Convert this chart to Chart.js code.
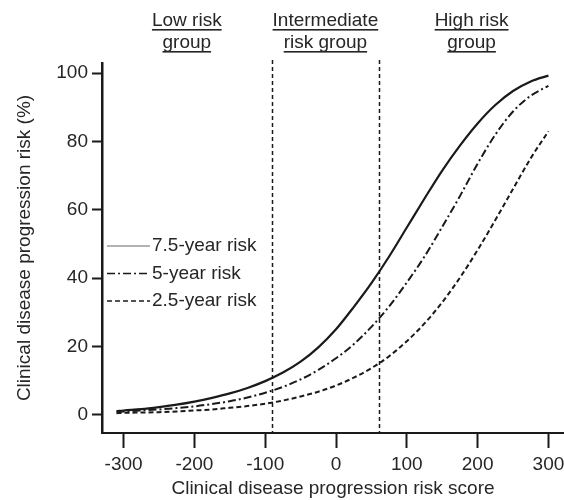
<!DOCTYPE html>
<html>
<head>
<meta charset="utf-8">
<script src="https://cdn.jsdelivr.net/npm/chart.js@4/dist/chart.umd.min.js"></script>
<style>
  html, body { margin: 0; padding: 0; background: #fff; overflow: hidden; }
  canvas { display: block; }
</style>
</head>
<body>
<canvas id="chart" width="564" height="500"></canvas>
<script>
// Risk score grid and cumulative progression risk (%) per horizon
const riskScore = [-310, -300, -275, -250, -225, -200, -175, -150, -125, -100, -75, -50, -25,
                   0, 25, 50, 75, 100, 125, 150, 175, 200, 225, 250, 275, 300];
const risk75 = [1.0, 1.2, 1.6, 2.2, 2.9, 3.8, 4.9, 6.2, 7.8, 9.8, 12.3, 15.5, 19.7,
                25.0, 31.5, 38.5, 46.3, 54.8, 63.3, 71.5, 78.8, 85.3, 90.7, 94.8, 97.6, 99.3];
const risk50 = [0.8, 0.9, 1.2, 1.5, 1.9, 2.4, 3.1, 3.9, 5.0, 6.4, 8.1, 10.3, 13.1,
                16.5, 20.6, 25.7, 31.7, 38.7, 46.3, 55.0, 64.0, 73.5, 82.0, 88.8, 93.4, 96.3];
const risk25 = [0.4, 0.5, 0.6, 0.7, 0.9, 1.2, 1.5, 2.0, 2.5, 3.2, 4.1, 5.3, 6.7,
                8.5, 10.8, 13.6, 17.1, 21.5, 26.7, 32.9, 40.1, 48.2, 57.0, 66.1, 75.1, 83.0];
const seriesLabels = ['7.5-year risk', '5-year risk', '2.5-year risk'];

const xTicks = [-300, -200, -100, 0, 100, 200, 300];
const yTicks = [0, 20, 40, 60, 80, 100];

// Score cut-offs separating the risk groups
const groupCutoffs = [-91, 61];
const groupNames = [['Low risk', 'group'], ['Intermediate', 'risk group'], ['High risk', 'group']];

const FONT = '"Liberation Sans", Arial, Helvetica, sans-serif';
const INK = '#1a1a1a';
const TEXT = '#262626';

Chart.defaults.font.family = FONT;
Chart.defaults.font.size = 19;
Chart.defaults.color = TEXT;

const toPoints = ys => riskScore.map((x, i) => ({ x, y: ys[i] }));

// Cut-off lines, group headings and the in-plot legend
const overlay = {
  id: 'overlay',
  afterDatasetsDraw(chart) {
    const { ctx, chartArea, scales: { x } } = chart;
    ctx.save();

    ctx.strokeStyle = INK;
    ctx.lineWidth = 1.5;
    ctx.setLineDash([4, 3]);
    groupCutoffs.forEach(v => {
      const px = Math.round(x.getPixelForValue(v)) + 0.5;
      ctx.beginPath();
      ctx.moveTo(px, chartArea.top - 3);
      ctx.lineTo(px, chartArea.bottom);
      ctx.stroke();
    });
    ctx.setLineDash([]);

    const bounds = [x.min, ...groupCutoffs, x.max];
    ctx.font = '19px ' + FONT;
    ctx.fillStyle = TEXT;
    ctx.textAlign = 'center';
    ctx.textBaseline = 'alphabetic';
    groupNames.forEach((lines, i) => {
      const cx = x.getPixelForValue((bounds[i] + bounds[i + 1]) / 2);
      lines.forEach((t, j) => {
        const by = 26 + j * 22;
        ctx.fillText(t, cx, by);
        const w = ctx.measureText(t).width;
        ctx.fillRect(cx - w / 2, by + 3, w, 1.6);
      });
    });

    // legend
    const lx = chartArea.left + 5;
    const ly = 246;
    ctx.textAlign = 'left';
    ctx.textBaseline = 'middle';
    chart.data.datasets.forEach((ds, i) => {
      const y = ly + i * 27.5;
      ctx.strokeStyle = i === 0 ? '#9a9a9a' : INK;
      ctx.lineWidth = 1.4;
      ctx.setLineDash(ds.borderDash || []);
      ctx.beginPath();
      ctx.moveTo(lx, y);
      ctx.lineTo(lx + 43, y);
      ctx.stroke();
      ctx.setLineDash([]);
      ctx.fillText(ds.label, lx + 45, y);
    });

    ctx.restore();
  }
};

new Chart(document.getElementById('chart'), {
  type: 'line',
  data: {
    datasets: [
      { label: seriesLabels[0], data: toPoints(risk75), borderColor: INK, borderWidth: 2.2, borderDash: [] },
      { label: seriesLabels[1], data: toPoints(risk50), borderColor: INK, borderWidth: 2, borderDash: [8, 3, 2, 3] },
      { label: seriesLabels[2], data: toPoints(risk25), borderColor: INK, borderWidth: 2, borderDash: [5, 3] }
    ]
  },
  options: {
    responsive: false,
    animation: false,
    devicePixelRatio: 1,
    layout: { padding: { top: 63, left: 0, right: 0, bottom: 0 } },
    elements: {
      point: { radius: 0 },
      line: { cubicInterpolationMode: 'monotone', fill: false }
    },
    plugins: { legend: { display: false }, tooltip: { enabled: false } },
    scales: {
      x: {
        type: 'linear',
        min: -330.5,
        max: 322,
        afterBuildTicks: s => { s.ticks = xTicks.map(v => ({ value: v })); },
        afterFit: s => { s.height = 67; s.paddingLeft = 0; s.paddingRight = 0; },
        grid: { drawOnChartArea: false, drawTicks: true, tickLength: 15, tickWidth: 2, tickColor: INK },
        border: { display: true, color: INK, width: 2 },
        ticks: { color: TEXT, padding: 5, maxRotation: 0, autoSkip: false },
        title: { display: true, text: 'Clinical disease progression risk score', color: TEXT, padding: { top: 0, bottom: 0 } }
      },
      y: {
        min: -5.4,
        max: 103,
        afterBuildTicks: s => { s.ticks = yTicks.map(v => ({ value: v })); },
        afterFit: s => { s.width = 102; s.paddingTop = 0; s.paddingBottom = 0; },
        grid: { drawOnChartArea: false, drawTicks: true, tickLength: 10, tickWidth: 2, tickColor: INK },
        border: { display: true, color: INK, width: 2.5 },
        ticks: { color: TEXT, padding: 4, autoSkip: false },
        title: { display: true, text: 'Clinical disease progression risk (%)', color: TEXT, padding: { top: 13, bottom: 0 } }
      }
    }
  },
  plugins: [overlay]
});
</script>
</body>
</html>
